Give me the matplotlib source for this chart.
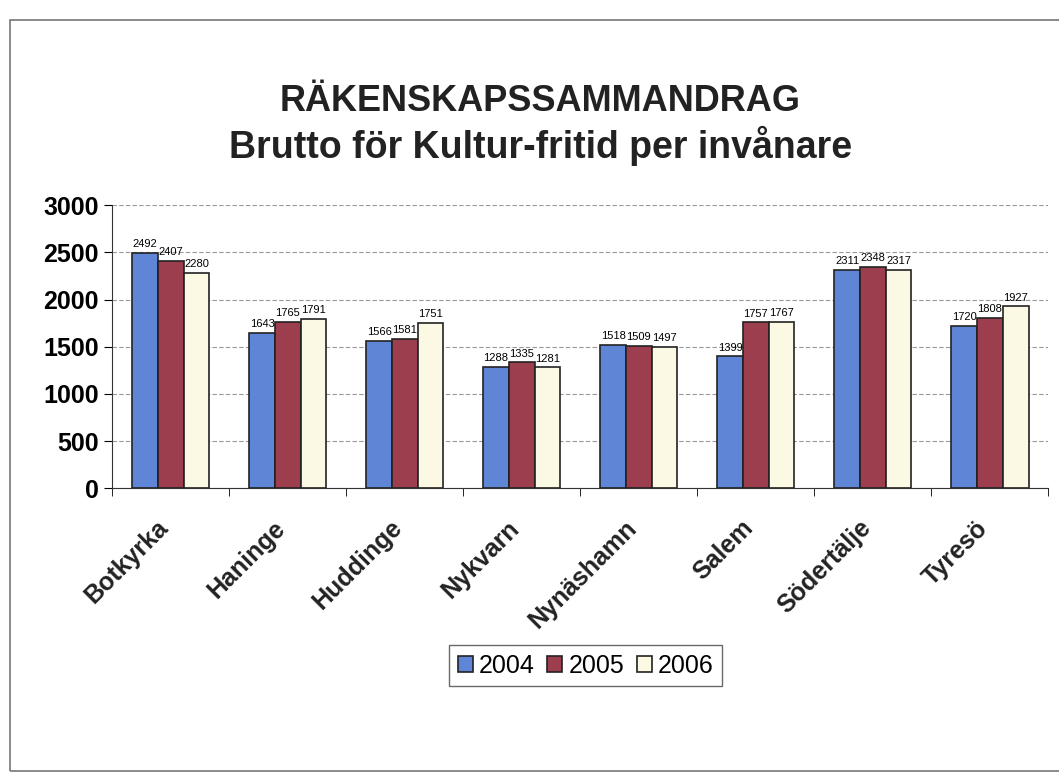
import matplotlib.pyplot as plt
import matplotlib.transforms as mtransforms
import numpy as np
from matplotlib.patches import Rectangle

# kommuner och värden (kr per invånare)
kommuner = ['Botkyrka', 'Haninge', 'Huddinge', 'Nykvarn', 'Nynäshamn',
            'Salem', 'Södertälje', 'Tyresö']
years = ['2004', '2005', '2006']
v2004 = [2492, 1643, 1566, 1288, 1518, 1399, 2311, 1720]
v2005 = [2407, 1765, 1581, 1335, 1509, 1757, 2348, 1808]
v2006 = [2280, 1791, 1751, 1281, 1497, 1767, 2317, 1927]
colors = ['#5f86d6', '#9c3e4e', '#fbf9e4']

plt.rcParams['font.family'] = ['Liberation Sans', 'DejaVu Sans']

fig = plt.figure(figsize=(10.59, 7.74), dpi=100)
ax = fig.add_axes([0.106, 0.369, 0.884, 0.366])

# outer chart frame
fig.patches.append(Rectangle((0.009, 0.004), 0.995, 0.97, transform=fig.transFigure,
                             fill=False, edgecolor='#777777', linewidth=1.2))

x = np.arange(len(kommuner))
w = 0.22
series = [v2004, v2005, v2006]
for i, (vals, c, yr) in enumerate(zip(series, colors, years)):
    pos = x + (i - 1) * w
    ax.bar(pos, vals, w, color=c, edgecolor='#222222', linewidth=1.2, label=yr, zorder=3)
    for p, v in zip(pos, vals):
        ax.text(p, v + 40, str(v), ha='center', va='bottom', fontsize=8,
                family=['Liberation Sans Narrow', 'Liberation Sans'], zorder=4)

ax.set_xlim(-0.5, len(kommuner) - 0.5)
ax.set_ylim(0, 3000)
ax.set_yticks(range(0, 3001, 500))
ax.yaxis.grid(True, linestyle=(0, (4, 2)), color='#999999', linewidth=0.8, zorder=0)
ax.set_axisbelow(True)

# category labels, rotated, drawn as text so they can be nudged
ax.set_xticks(x)
ax.set_xticklabels([])
off = mtransforms.ScaledTranslation(-6 / 100, -36 / 100, fig.dpi_scale_trans)
for xi, name in zip(x, kommuner):
    ax.text(xi, 0, name, transform=ax.get_xaxis_transform() + off,
            rotation=45, ha='right', va='center', rotation_mode='anchor',
            fontsize=18, fontweight='bold', color='#222222')
ax.set_xticks(np.arange(-0.5, len(kommuner)), minor=True)
ax.tick_params(axis='x', which='major', length=0)
ax.tick_params(axis='x', which='minor', length=6, direction='out')
ax.tick_params(axis='y', labelsize=18, length=6, direction='out')
for lab in ax.get_yticklabels():
    lab.set_fontweight('bold')

for s in ['top', 'right']:
    ax.spines[s].set_visible(False)
ax.spines['left'].set_color('#333333')
ax.spines['bottom'].set_color('#333333')

fig.text(0.51, 0.869, 'RÄKENSKAPSSAMMANDRAG', ha='center', va='center',
         fontsize=26, fontweight='bold', color='#222222')
fig.text(0.51, 0.811, 'Brutto för Kultur-fritid per invånare', ha='center', va='center',
         fontsize=27, fontweight='bold', color='#222222')

leg = fig.legend(loc='center', bbox_to_anchor=(0.553, 0.14), ncol=3, fontsize=18,
                 frameon=True, fancybox=False, edgecolor='#444444',
                 handlelength=0.6, handleheight=0.6, handletextpad=0.25, columnspacing=0.5,
                 borderpad=0.35)
leg.get_frame().set_linewidth(1.0)

fig.savefig('out.png', dpi=100)
